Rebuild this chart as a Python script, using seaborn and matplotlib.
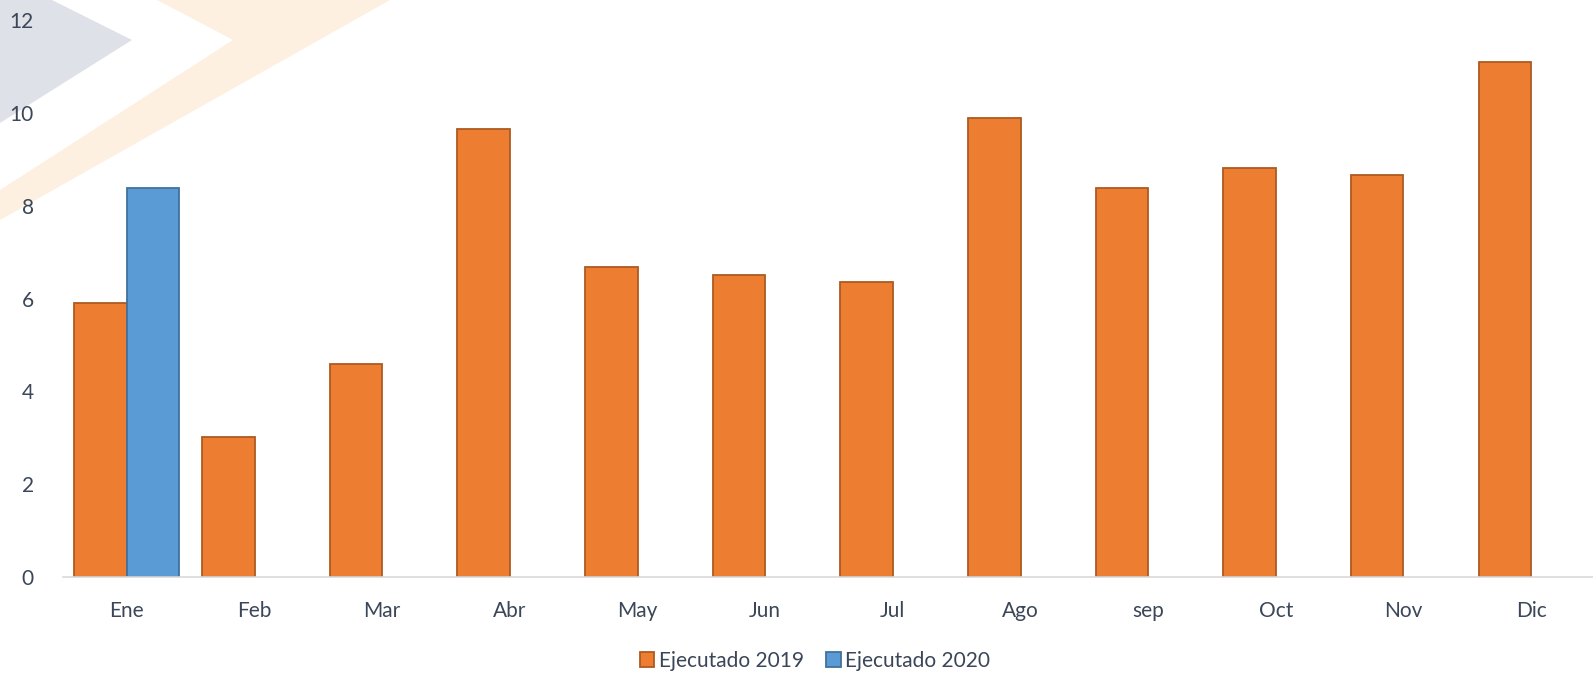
import pandas as pd
import matplotlib.pyplot as plt
import seaborn as sns
from matplotlib.patches import Polygon

meses = ["Ene", "Feb", "Mar", "Abr", "May", "Jun", "Jul", "Ago", "sep", "Oct", "Nov", "Dic"]
ejecutado_2019 = [5.91, 3.02, 4.60, 9.66, 6.68, 6.50, 6.35, 9.90, 8.39, 8.82, 8.67, 11.10]
meses_2020 = ["Ene"]
ejecutado_2020 = [8.39]
series = ["Ejecutado 2019", "Ejecutado 2020"]

df = pd.concat([
    pd.DataFrame({"mes": meses, "valor": ejecutado_2019, "serie": series[0]}),
    pd.DataFrame({"mes": meses_2020, "valor": ejecutado_2020, "serie": series[1]}),
])

sns.set_style("white")
plt.rcParams["font.family"] = ["Lato", "DejaVu Sans"]
texto = "#3B4658"

fig = plt.figure(figsize=(15.93, 6.74), dpi=100)
W, H = 1593, 674

# marca de agua del fondo (chevrones)
def px(pts):
    return [(x / W, 1 - y / H) for x, y in pts]

fig.add_artist(Polygon(px([(0, 0), (52, 0), (132, 40), (0, 123)]),
                       closed=True, transform=fig.transFigure,
                       facecolor="#DEE1E7", edgecolor="none", zorder=0))
fig.add_artist(Polygon(px([(157, 0), (233, 40), (0, 190), (0, 220), (390, 0)]),
                       closed=True, transform=fig.transFigure,
                       facecolor="#FDF0E0", edgecolor="none", zorder=0))

# el eje se sale un poco por la derecha, como en el original
ax = fig.add_axes([63 / W, 1 - 577 / H, 1532 / W, (577 - 20.3) / H])
ax.patch.set_alpha(0)

sns.barplot(
    data=df, x="mes", y="valor", hue="serie",
    order=meses, hue_order=series,
    palette={series[0]: "#ED7D31", series[1]: "#5B9BD5"},
    width=0.82, errorbar=None, saturation=1, legend=False, ax=ax,
)

bordes = ["#AE5A21", "#41719C"]
for cont, borde in zip(ax.containers, bordes):
    for p in cont:
        p.set_edgecolor(borde)
        p.set_linewidth(1.3)

ax.set_ylim(0, 12)
ax.set_xlim(-0.5, 11.5)
ax.set_yticks(range(0, 13, 2))
ax.set_xlabel("")
ax.set_ylabel("")
for s in ["top", "right", "left"]:
    ax.spines[s].set_visible(False)
ax.spines["bottom"].set_color("#D9D9D9")
ax.spines["bottom"].set_linewidth(1.2)
ax.tick_params(axis="y", length=0, pad=21, labelsize=15, labelcolor=texto)
ax.tick_params(axis="x", length=0, pad=17, labelsize=15, labelcolor=texto)

fig.legend(ax.containers, series, loc="center",
           bbox_to_anchor=(815 / W, 1 - 661 / H), ncol=2, frameon=False,
           fontsize=15, labelcolor=texto, handlelength=0.7, handleheight=0.7,
           handletextpad=0.2, columnspacing=1.1)

fig.savefig("out.png", dpi=100)
